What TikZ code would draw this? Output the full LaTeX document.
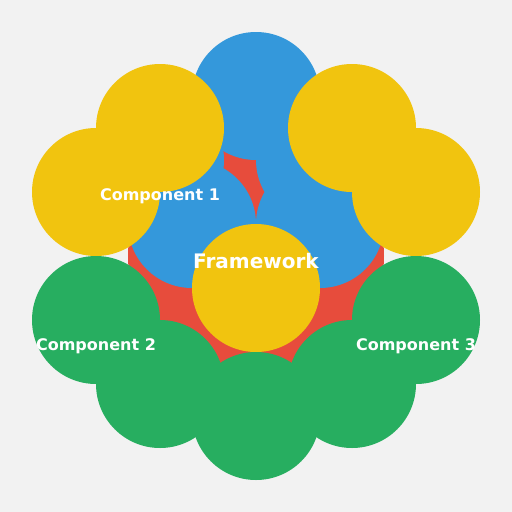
\documentclass[tikz,border=0pt]{standalone}
\usepackage{fontspec}
\setmainfont{DejaVu Sans}
\definecolor{bg}{HTML}{F2F2F2}
\definecolor{cred}{HTML}{E74C3C}
\definecolor{cblue}{HTML}{3498DB}
\definecolor{cyellow}{HTML}{F1C40F}
\definecolor{cgreen}{HTML}{27AE60}
\begin{document}
\begin{tikzpicture}[x=1pt,y=-1pt,
  blob/.style={circle,minimum size=128pt,inner sep=0pt,outer sep=0pt},
  lbl/.style={text=white,font=\bfseries\fontsize{16}{16}\selectfont,anchor=base,inner sep=0pt},
  biglbl/.style={text=white,font=\bfseries\fontsize{20}{20}\selectfont,anchor=base,inner sep=0pt}]
\fill[bg] (0,0) rectangle (512,512);
\useasboundingbox (0,0) rectangle (512,512);
% red core
\node[circle,minimum size=256pt,inner sep=0pt,fill=cred] (core) at (256,256) {};
% blue
\node[blob,fill=cblue] (b1) at (256,96) {};
\node[blob,fill=cblue] (b2) at (160,160) {};
\node[blob,fill=cblue] (b3) at (320,160) {};
\node[blob,fill=cblue] (b4) at (192,224) {};
\node[blob,fill=cblue] (b5) at (320,224) {};
% yellow
\node[blob,fill=cyellow] (y1) at (160,128) {};
\node[blob,fill=cyellow] (y2) at (352,128) {};
\node[blob,fill=cyellow] (y3) at (96,192) {};
\node[blob,fill=cyellow] (y4) at (416,192) {};
\node[blob,fill=cyellow] (y5) at (256,288) {};
% green
\node[blob,fill=cgreen] (g1) at (96,320) {};
\node[blob,fill=cgreen] (g2) at (416,320) {};
\node[blob,fill=cgreen] (g3) at (160,384) {};
\node[blob,fill=cgreen] (g4) at (352,384) {};
\node[blob,fill=cgreen] (g5) at (256,416) {};
% labels
\node[lbl] (t1) at (160,200) {Component 1};
\node[biglbl] (tf) at (256,268) {Framework};
\node[lbl] (t2) at (96,350) {Component 2};
\node[lbl] (t3) at (416,350) {Component 3};
\end{tikzpicture}
\end{document}
